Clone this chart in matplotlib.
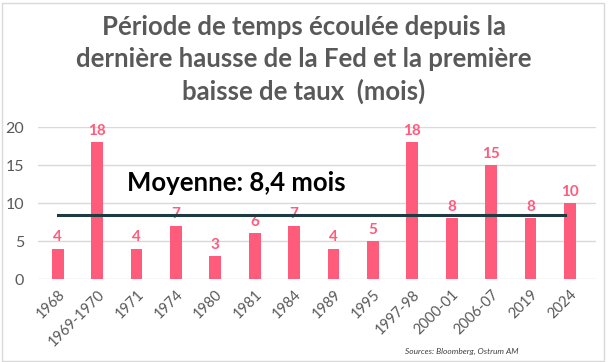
import numpy as np
import matplotlib.pyplot as plt

# data
periods = ["1968", "1969-1970", "1971", "1974", "1980", "1981", "1984",
           "1989", "1995", "1997-98", "2000-01", "2006-07", "2019", "2024"]
months = [4, 18, 4, 7, 3, 6, 7, 4, 5, 18, 8, 15, 8, 10]
mean_months = 8.4

BAR_COL = "#FF5C7C"
GREY = "#595959"

plt.rcParams['font.family'] = ['Lato', 'DejaVu Sans']

fig = plt.figure(figsize=(6.08, 3.62), dpi=100)
ax = fig.add_axes([0.0625, 0.229, 0.917, 0.42])

x = np.arange(len(periods))
ax.bar(x, months, width=0.3, color=BAR_COL, zorder=3)
for xi, v in zip(x, months):
    ax.text(xi, v + 0.6, str(v), ha="center", va="bottom", color=BAR_COL,
            fontsize=11, fontweight="bold", zorder=4)

ax.plot([x[0], x[-1] - 0.12], [mean_months, mean_months], color="#1E3B42",
        lw=2.2, zorder=5)
ax.text(1.75, 12.7, "Moyenne: 8,4 mois", fontsize=18.5, fontweight="bold",
        color="black", ha="left", va="center")

ax.set_xlim(-0.5, len(periods) - 0.35)
ax.set_ylim(0, 20)
ax.set_yticks([0, 5, 10, 15, 20])
ax.set_xticks(x)
ax.set_xticklabels(periods, rotation=45, ha="right", rotation_mode="anchor")
ax.tick_params(axis="both", length=0, colors=GREY)
ax.tick_params(axis="x", pad=6, labelsize=10.5)
ax.tick_params(axis="y", pad=10, labelsize=11.5)
ax.yaxis.grid(True, color="#D9D9D9", lw=1, zorder=0)
for s in ax.spines.values():
    s.set_visible(False)

fig.text(0.5, 0.835, "Période de temps écoulée depuis la\n"
         "dernière hausse de la Fed et la première\n"
         "baisse de taux  (mois)", ha="center", va="center",
         fontsize=18.5, fontweight="bold", color=GREY, linespacing=1.38)

fig.text(0.853, 0.028, "Sources: Bloomberg, Ostrum AM", ha="right",
         va="center", fontsize=6, style="italic", color="#404040")

fig.patches.append(plt.Rectangle((0.003, 0.003), 0.99, 0.99, fill=False,
                                 edgecolor="#D9D9D9", lw=1,
                                 transform=fig.transFigure))

fig.savefig("out.png", dpi=100)
